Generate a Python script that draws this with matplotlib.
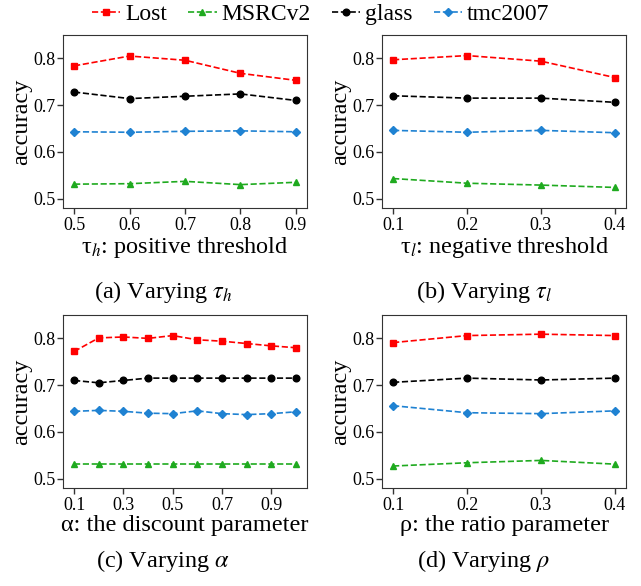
import matplotlib
matplotlib.use("Agg")
import matplotlib.pyplot as plt

plt.rcParams["font.family"] = ["Liberation Serif", "DejaVu Serif"]
plt.rcParams["mathtext.fontset"] = "stix"

# data
series = ["Lost", "MSRCv2", "glass", "tmc2007"]
colors = ["#ff0000", "#1faa1f", "#000000", "#1f82d2"]
markers = ["s", "^", "o", "D"]

x_a = [0.5, 0.6, 0.7, 0.8, 0.9]
lost_a = [0.784, 0.805, 0.796, 0.768, 0.753]
msrc_a = [0.531, 0.532, 0.537, 0.530, 0.535]
glass_a = [0.728, 0.714, 0.719, 0.724, 0.710]
tmc_a = [0.643, 0.642, 0.644, 0.645, 0.643]

x_b = [0.1, 0.2, 0.3, 0.4]
lost_b = [0.797, 0.806, 0.794, 0.759]
msrc_b = [0.543, 0.533, 0.529, 0.524]
glass_b = [0.720, 0.715, 0.715, 0.706]
tmc_b = [0.646, 0.642, 0.646, 0.641]

x_c = [0.1, 0.2, 0.3, 0.4, 0.5, 0.6, 0.7, 0.8, 0.9, 1.0]
lost_c = [0.772, 0.801, 0.803, 0.800, 0.806, 0.797, 0.794, 0.789, 0.784, 0.780]
msrc_c = [0.532] * 10
glass_c = [0.710, 0.705, 0.710, 0.715, 0.715, 0.715, 0.715, 0.715, 0.715, 0.715]
tmc_c = [0.644, 0.646, 0.644, 0.640, 0.639, 0.645, 0.639, 0.637, 0.639, 0.643]

x_d = [0.1, 0.2, 0.3, 0.4]
lost_d = [0.791, 0.806, 0.809, 0.806]
msrc_d = [0.527, 0.534, 0.539, 0.531]
glass_d = [0.706, 0.715, 0.711, 0.715]
tmc_d = [0.656, 0.641, 0.639, 0.645]

xticks_c = [0.1, 0.3, 0.5, 0.7, 0.9]
xlabels = ["τ$_h$: positive threshold", "τ$_l$: negative threshold",
           "α: the discount parameter", "ρ: the ratio parameter"]
captions = [r"(a) Varying $\tau_h$", r"(b) Varying $\tau_l$",
            r"(c) Varying $\alpha$", r"(d) Varying $\rho$"]

W, H = 641, 586
fig = plt.figure(figsize=(W / 100, H / 100), dpi=100)


def box(l, t, r, b):
    return [l / W, 1 - b / H, (r - l) / W, (b - t) / H]


rects = [box(63, 35, 307, 208), box(382, 35, 626, 208),
         box(63, 315, 307, 488), box(382, 315, 626, 488)]
cap_pos = [(163, 292), (484, 292), (163, 561), (484, 561)]
panels = [
    (x_a, [lost_a, msrc_a, glass_a, tmc_a], x_a),
    (x_b, [lost_b, msrc_b, glass_b, tmc_b], x_b),
    (x_c, [lost_c, msrc_c, glass_c, tmc_c], xticks_c),
    (x_d, [lost_d, msrc_d, glass_d, tmc_d], x_d),
]

handles = []
for i, (rect, (xs, ys, ticks)) in enumerate(zip(rects, panels)):
    ax = fig.add_axes(rect)
    for name, y, c, m in zip(series, ys, colors, markers):
        ms = 4.2 if m in ("D", "s") else 4.8
        (ln,) = ax.plot(xs, y, linestyle="--", color=c, marker=m, markersize=ms,
                        linewidth=1.2, label=name)
        if i == 0:
            handles.append(ln)
    ax.set_ylim(0.48, 0.85)
    ax.set_yticks([0.5, 0.6, 0.7, 0.8])
    ax.set_xticks(ticks)
    ax.set_xticklabels([f"{t:.1f}" for t in ticks])
    ax.tick_params(labelsize=13, length=4, width=1, color="#333333")
    ax.tick_params(axis="y", pad=1.5)
    ax.tick_params(axis="x", pad=2.5)
    ax.set_ylabel("accuracy", fontsize=17.5, labelpad=1)
    ax.set_xlabel(xlabels[i], fontsize=17.5, labelpad=1)
    for s in ax.spines.values():
        s.set_color("#333333")
    cx, cy = cap_pos[i]
    fig.text(cx / W, 1 - cy / H, captions[i], ha="center", va="center", fontsize=17.5)

fig.legend(handles=handles, loc="center", bbox_to_anchor=(0.5, 1 - 14 / H), ncol=4,
           frameon=False, fontsize=17, handlelength=1.2, handletextpad=0.2,
           columnspacing=0.9, borderaxespad=0)

fig.savefig("out.png", dpi=100)
